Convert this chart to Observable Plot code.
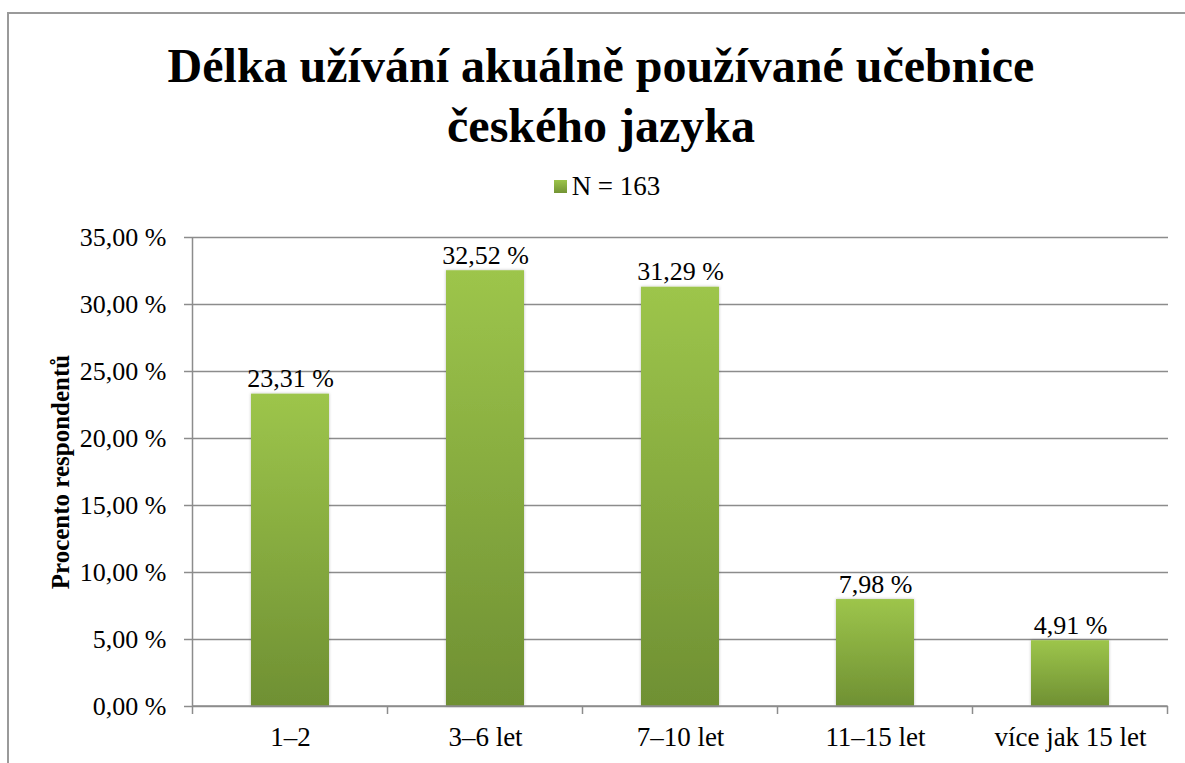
<!DOCTYPE html>
<html>
<head>
<meta charset="utf-8">
<script src="https://cdn.jsdelivr.net/npm/d3@7"></script>
<script src="https://cdn.jsdelivr.net/npm/@observablehq/plot@0.6"></script>
<style>
  html, body { margin: 0; padding: 0; background: #fff; }
  #wrap { position: relative; width: 1185px; height: 763px; overflow: hidden; font-family: "Liberation Serif", "Times New Roman", Times, "Nimbus Roman", "DejaVu Serif", serif; }
  #frame { position: absolute; left: 7px; top: 12px; width: 1300px; height: 900px; border-left: 2px solid #9a9a9a; border-top: 2px solid #9a9a9a; }
  #title { position: absolute; left: 8px; width: 1186px; top: 36px; text-align: center; font-weight: bold; font-size: 48px; line-height: 60px; color: #000; }
  #legend { position: absolute; left: 0; width: 1214px; top: 170px; text-align: center; font-size: 27px; line-height: 32px; color: #000; }
  #legend .sw { display: inline-block; width: 13px; height: 13px; background: linear-gradient(#9cc44a, #739434); margin-right: 5px; vertical-align: 2px; }
  #chart { position: absolute; left: 0; top: 0; }
</style>
</head>
<body>
<div id="wrap">
  <div id="frame"></div>
  <div id="title">Délka užívání akuálně používané učebnice<br>českého jazyka</div>
  <div id="legend"><span class="sw"></span>N = 163</div>
  <div id="chart"></div>
</div>
<script>
const categories = ["1–2", "3–6 let", "7–10 let", "11–15 let", "více jak 15 let"];
const values = [23.31, 32.52, 31.29, 7.98, 4.91];
const yTicks = [0, 5, 10, 15, 20, 25, 30, 35];
const seriesName = "N = 163";
const yLabel = "Procento respondentů";

const FONT = "'Liberation Serif', 'Times New Roman', Times, 'Nimbus Roman', 'DejaVu Serif', serif";
const data = categories.map((c, i) => ({category: c, value: values[i]}));
const fmt = v => v.toFixed(2).replace(".", ",") + " %";

function defs() {
  const d = d3.create("svg:defs");
  const g = d.append("linearGradient").attr("id", "barGrad").attr("x1", 0).attr("y1", 0).attr("x2", 0).attr("y2", 1);
  g.append("stop").attr("offset", "0%").attr("stop-color", "#9dc54b");
  g.append("stop").attr("offset", "100%").attr("stop-color", "#6f9033");
  const f = d.append("filter").attr("id", "shadow").attr("x", "-10%").attr("y", "-10%").attr("width", "120%").attr("height", "120%");
  f.append("feDropShadow").attr("dx", 0).attr("dy", 0).attr("stdDeviation", 1.5).attr("flood-color", "#000").attr("flood-opacity", 0.25);
  return d.node();
}

const chart = Plot.plot({
  width: 1185,
  height: 763,
  marginLeft: 192,
  marginRight: 17,
  marginTop: 237,
  marginBottom: 57,
  style: {fontFamily: FONT, fontSize: "26px", background: "transparent", color: "#000"},
  x: {domain: categories, paddingInner: 0.6, paddingOuter: 0.3, label: null, axis: null},
  y: {domain: [0, 35], label: null, axis: null},
  marks: [
    defs,
    Plot.ruleY(yTicks, {stroke: "#8c8c8c", strokeWidth: 1.5}),
    Plot.barY(data, {x: "category", y: "value", fill: "url(#barGrad)"}),
    Plot.text(data, {x: "category", y: "value", text: d => fmt(d.value), lineAnchor: "bottom", dy: -7, fontSize: 26, fill: "#000"}),
    Plot.axisY(yTicks, {tickFormat: fmt, tickSize: 8, tickPadding: 18, stroke: "#8c8c8c", strokeWidth: 1.5, fontSize: 26, fill: "#000", label: null}),
    Plot.axisX({tickSize: 0, tickPadding: 20, fontSize: 27, fill: "#000", label: null}),
    Plot.text([yLabel], {frameAnchor: "left", textAnchor: "middle", dx: -132, rotate: -90, fontWeight: "bold", fontSize: 25, fill: "#000"})
  ]
});
document.getElementById("chart").appendChild(chart);

// x-axis category boundary ticks and axis lines, positioned through the scales
const svg = d3.select(chart);
const xs = chart.scale("x");
const ys = chart.scale("y");
const step = xs.step;
const y0 = ys.apply(0);
const c0 = xs.apply(categories[0]) + xs.bandwidth / 2;
const bounds = d3.range(categories.length + 1).map(i => c0 - step / 2 + i * step);
const g = svg.append("g").attr("stroke", "#8c8c8c").attr("stroke-width", 1.5);
bounds.forEach(b => g.append("line").attr("x1", b).attr("x2", b).attr("y1", y0).attr("y2", y0 + 8));
g.append("line").attr("x1", bounds[0]).attr("x2", bounds[bounds.length - 1]).attr("y1", y0).attr("y2", y0);
g.append("line").attr("x1", bounds[0]).attr("x2", bounds[0]).attr("y1", ys.apply(35)).attr("y2", y0);
svg.selectAll("rect").filter(function() { return this.getAttribute("fill") === "url(#barGrad)" || (this.parentNode && this.parentNode.getAttribute && this.parentNode.getAttribute("fill") === "url(#barGrad)"); }).attr("filter", "url(#shadow)");
</script>
</body>
</html>
